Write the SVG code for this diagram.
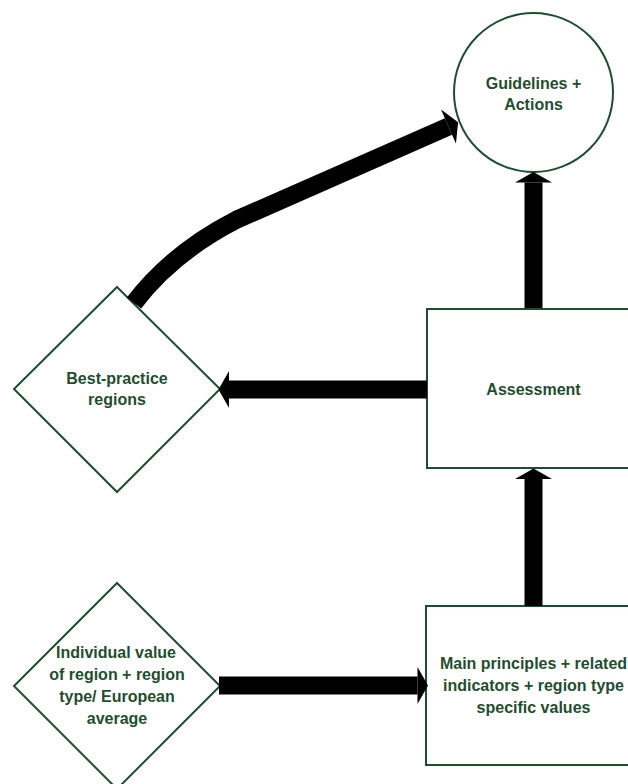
<svg xmlns="http://www.w3.org/2000/svg" width="628" height="784" viewBox="0 0 628 784">
  <style>
    .shape { fill: #ffffff; stroke: #1f4e2f; stroke-width: 2; }
    .label { font-family: "Liberation Sans", Arial, sans-serif; font-size: 16px; font-weight: bold; fill: #1f4e2f; text-anchor: middle; }
    .flow { fill: none; stroke: #000000; stroke-width: 18; stroke-linecap: butt; marker-end: url(#head); }
  </style>
  <defs>
    <marker id="head" markerUnits="userSpaceOnUse" viewBox="0 -19 11 38" refX="0" refY="0" markerWidth="11" markerHeight="38" orient="auto" overflow="visible">
      <path d="M0,-18.5 L10.5,0 L0,18.5 Z" fill="#000000"/>
    </marker>
  </defs>

  <rect width="628" height="784" fill="#ffffff"/>

  <!-- nodes -->
  <g id="guidelines">
    <circle class="shape" cx="533.5" cy="92.5" r="79.5"/>
    <text class="label" x="533.5" y="89">Guidelines +</text>
    <text class="label" x="533.5" y="110">Actions</text>
  </g>

  <g id="assessment">
    <rect class="shape" x="427" y="309" width="215" height="159"/>
    <text class="label" x="533.5" y="395">Assessment</text>
  </g>

  <g id="best-practice">
    <polygon class="shape" points="117,287 220,389 117,492 14,389"/>
    <text class="label" x="117" y="384">Best-practice</text>
    <text class="label" x="117" y="405">regions</text>
  </g>

  <g id="individual-value">
    <polygon class="shape" points="117,583 220,686 117,789 14,686"/>
    <text class="label" x="116" y="658">Individual value</text>
    <text class="label" x="117" y="680">of region + region</text>
    <text class="label" x="117" y="702">type/ European</text>
    <text class="label" x="117" y="724">average</text>
  </g>

  <g id="main-principles">
    <rect class="shape" x="426" y="606" width="216" height="159"/>
    <text class="label" x="533.5" y="669">Main principles + related</text>
    <text class="label" x="533.5" y="691">indicators + region type</text>
    <text class="label" x="533.5" y="713">specific values</text>
  </g>

  <!-- connectors -->
  <g id="connectors">
    <path class="flow" d="M533.5,606 L533.5,479"/>
    <path class="flow" d="M533.5,308 L533.5,182.5"/>
    <path class="flow" d="M427,389.5 L229,389.5"/>
    <path class="flow" d="M219,685.5 L417.5,685.5"/>
    <path class="flow" d="M134,303 Q172,253 236,220 L448.5,126.5"/>
  </g>
</svg>
